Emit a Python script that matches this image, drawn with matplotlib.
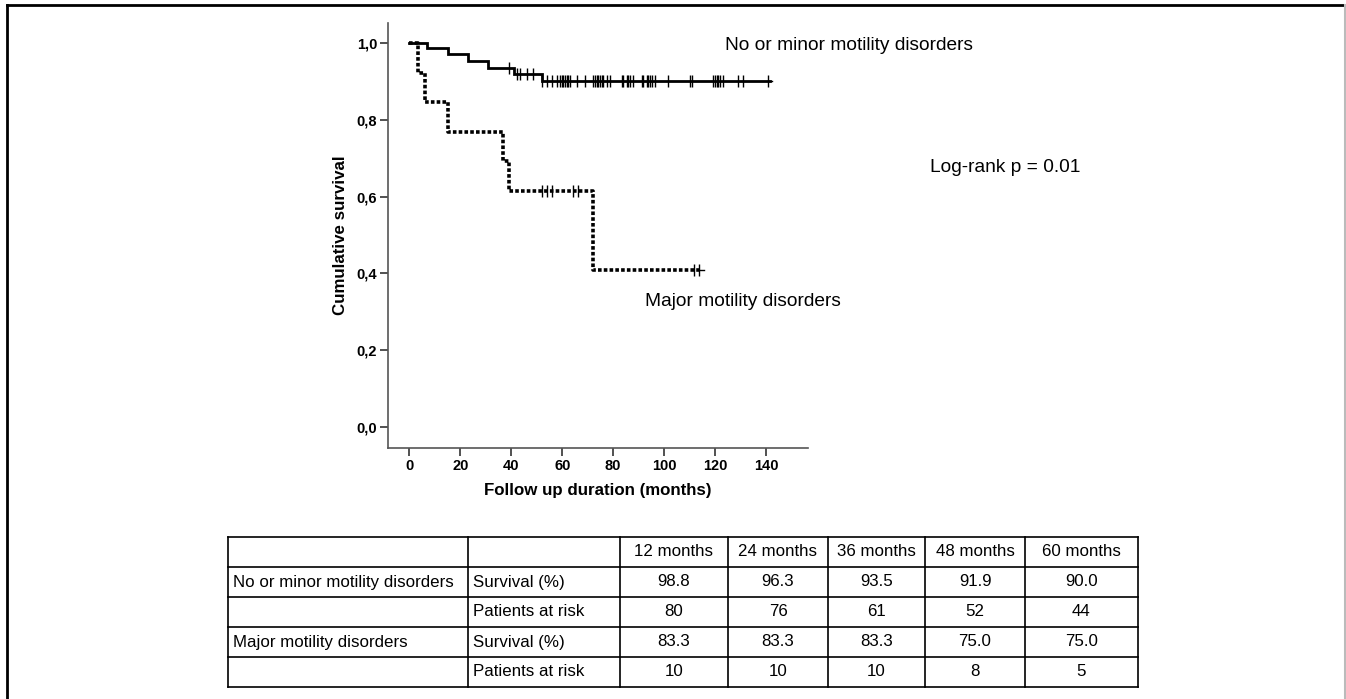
import matplotlib
matplotlib.use("Agg")
import matplotlib.pyplot as plt
import numpy as np

# ---------------- data ----------------
# No or minor motility disorders: step times (months) and survival after each step
minor_event_times = [0, 7, 15, 23, 31, 41, 52]
minor_survival = [1.0, 0.988, 0.972, 0.954, 0.935, 0.919, 0.900]
minor_censor_times = [38.9, 42.1, 43.4, 46.1, 48.7,
                      52.0, 53.9, 55.9, 57.8, 59.1, 59.8, 60.4, 61.1, 61.8, 62.4, 63.1,
                      65.7, 69.0, 72.2, 72.9, 73.5, 74.2, 74.8, 75.5, 76.1, 77.5, 78.8,
                      83.4, 84.0, 85.3, 86.0, 86.6, 87.9, 91.2, 91.8, 93.2, 93.8, 94.5,
                      95.1, 96.4, 101.6, 110.2, 110.8, 119.3, 120.0, 120.6, 121.3, 121.9,
                      123.2, 129.1, 131.1, 140.9]
minor_end = 141.5

# Major motility disorders
major_event_times = [0, 3.5, 6.2, 15.3, 36.9, 39.1, 72.0]
major_survival = [1.0, 0.923, 0.846, 0.769, 0.692, 0.615, 0.410]
major_censor_times = [52.0, 53.9, 55.9, 64.4, 66.3, 111.7, 113.8]
major_end = 115.0

x_ticks = [0, 20, 40, 60, 80, 100, 120, 140]
y_ticks = [0.0, 0.2, 0.4, 0.6, 0.8, 1.0]
y_tick_labels = ["0,0", "0,2", "0,4", "0,6", "0,8", "1,0"]

# table
table_header = ["", "", "12 months", "24 months", "36 months", "48 months", "60 months"]
table_group = ["No or minor motility disorders", "", "Major motility disorders", ""]
table_measure = ["Survival (%)", "Patients at risk", "Survival (%)", "Patients at risk"]
minor_surv_pct = ["98.8", "96.3", "93.5", "91.9", "90.0"]
minor_at_risk = ["80", "76", "61", "52", "44"]
major_surv_pct = ["83.3", "83.3", "83.3", "75.0", "75.0"]
major_at_risk = ["10", "10", "10", "8", "5"]

# ---------------- figure ----------------
W, H = 1346, 699
fig = plt.figure(figsize=(W / 100, H / 100), dpi=100)

tick_font = dict(family=["Liberation Sans Narrow", "Liberation Sans", "DejaVu Sans"],
                 weight="bold", size=10.5)
label_font = dict(family=["Liberation Sans", "DejaVu Sans"], weight="bold", size=12.2)
text_font = dict(family=["Liberation Sans", "DejaVu Sans"], size=13.8)
table_font = dict(family=["Liberation Sans Narrow", "Liberation Sans", "DejaVu Sans"], size=12.2)

ax = fig.add_axes([388.3 / W, 1 - 448 / H, (808 - 388.3) / W, (448 - 22.7) / H])
ax.set_xlim(-8.3, 156.5)
ax.set_ylim(-0.055, 1.053)
for s in ["top", "right"]:
    ax.spines[s].set_visible(False)
for s in ["left", "bottom"]:
    ax.spines[s].set_color("#555555")
    ax.spines[s].set_linewidth(1.2)

def km_steps(times, surv, end):
    xs = list(times) + [end]
    ys = list(surv) + [surv[-1]]
    return xs, ys

def level_at(times, surv, t):
    idx = np.searchsorted(times, t, side="right") - 1
    return surv[idx]

xs, ys = km_steps(minor_event_times, minor_survival, minor_end)
ax.step(xs, ys, where="post", color="black", lw=2.0, solid_joinstyle="miter")
cy = [level_at(minor_event_times, minor_survival, t) for t in minor_censor_times]
ax.plot(minor_censor_times, cy, ls="none", marker="|", ms=9, mew=1.0, color="black")

xs, ys = km_steps(major_event_times, major_survival, major_end)
ax.step(xs, ys, where="post", color="black", lw=2.6, ls=(0, (1, 0.6)))
cy = [level_at(major_event_times, major_survival, t) for t in major_censor_times]
ax.plot(major_censor_times, cy, ls="none", marker="|", ms=9, mew=1.0, color="black")
ax.plot([major_censor_times[-1], major_censor_times[-1] + 2], [cy[-1]] * 2, color="black", lw=1)
ax.plot([minor_censor_times[-1], minor_censor_times[-1] + 1.5],
        [minor_survival[-1]] * 2, color="black", lw=1)

ax.set_xticks(x_ticks)
ax.set_xticklabels([str(v) for v in x_ticks], **tick_font)
ax.set_yticks(y_ticks)
ax.set_yticklabels(y_tick_labels, **tick_font)
ax.tick_params(axis="both", length=6, width=1.2, color="#333333", pad=2)

ax.set_xlabel("Follow up duration (months)", labelpad=7, **label_font)
ax.set_ylabel("Cumulative survival", labelpad=6, **label_font)

# annotations in figure coordinates
fig.text(725 / W, 1 - 45 / H, "No or minor motility disorders", va="center", ha="left", **text_font)
fig.text(645 / W, 1 - 302 / H, "Major motility disorders", va="center", ha="left", **text_font)
fig.text(930 / W, 1 - 167 / H, "Log-rank p = 0.01", va="center", ha="left", **text_font)

# ---------------- table + frame (overlay axes in pixel coords) ----------------
ov = fig.add_axes([0, 0, 1, 1])
ov.set_xlim(0, W)
ov.set_ylim(H, 0)
ov.axis("off")
ov.patch.set_alpha(0)

# outer frame of figure
ov.plot([7, W], [5, 5], color="black", lw=2)
ov.plot([7, 7], [5, H], color="black", lw=2)
ov.plot([1345, 1345], [5, H], color="#bbbbbb", lw=1.5)

col_edges = [228, 468, 620, 728, 828, 925, 1025, 1138]
row_edges = [537, 567, 597, 627, 657, 687]
for x in col_edges:
    ov.plot([x, x], [row_edges[0], row_edges[-1]], color="black", lw=1.2)
for y in row_edges:
    ov.plot([col_edges[0], col_edges[-1]], [y, y], color="black", lw=1.2)

rows = [table_header,
        [table_group[0], table_measure[0]] + minor_surv_pct,
        [table_group[1], table_measure[1]] + minor_at_risk,
        [table_group[2], table_measure[2]] + major_surv_pct,
        [table_group[3], table_measure[3]] + major_at_risk]
for r, row in enumerate(rows):
    yc = (row_edges[r] + row_edges[r + 1]) / 2
    for c, txt in enumerate(row):
        if not txt:
            continue
        if c < 2:
            ov.text(col_edges[c] + 5, yc, txt, ha="left", va="center", **table_font)
        else:
            ov.text((col_edges[c] + col_edges[c + 1]) / 2, yc, txt, ha="center", va="center",
                    **table_font)

fig.savefig("out.png", dpi=100)
